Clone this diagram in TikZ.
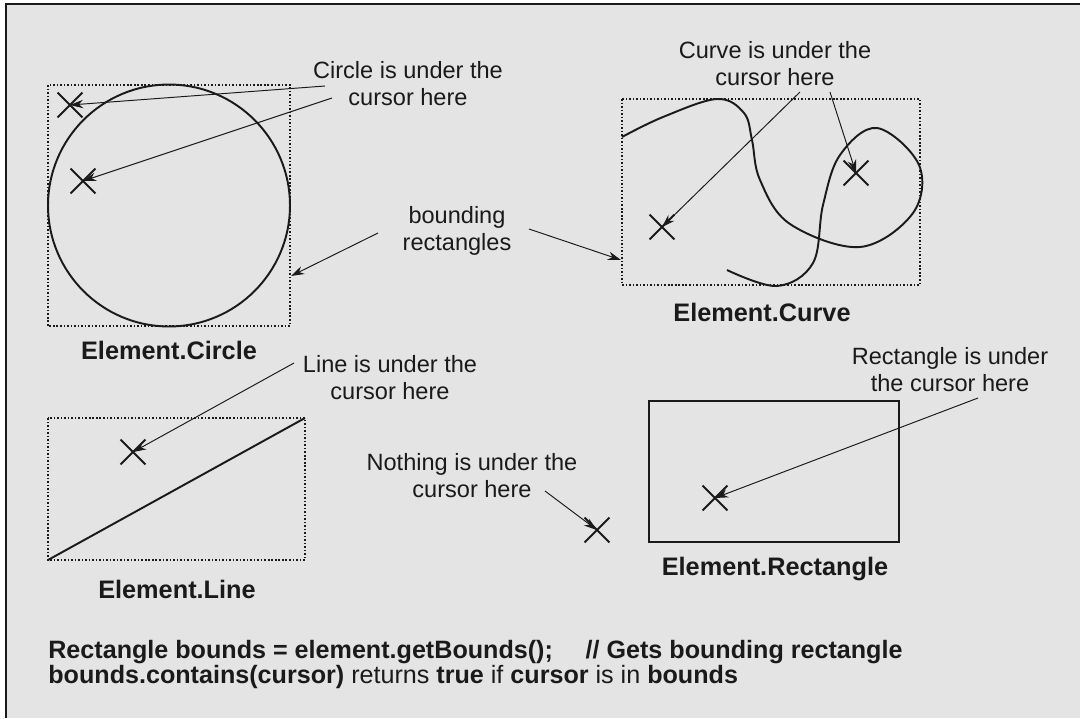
\documentclass[tikz,border=0pt]{standalone}
\usepackage{fontspec}
\setmainfont{Liberation Sans}
\usepackage{tikz}
\usetikzlibrary{arrows.meta,shapes.misc}
\definecolor{panelgray}{HTML}{E4E4E4}
\definecolor{inkblack}{HTML}{1A1A1A}

\begin{document}
\begin{tikzpicture}[
    x=0.02cm, y=-0.02cm,
    every node/.style={text=inkblack, inner sep=0pt},
    callout/.style={align=center, font=\fontsize{13.4}{15.4}\selectfont},
    elemname/.style={font=\fontsize{14.4}{16}\selectfont\bfseries},
    xmark/.style={cross out, draw=inkblack, line width=1.1pt, minimum size=0.46cm},
    bbox/.style={draw=inkblack, line width=0.6pt, dash pattern=on 0.9pt off 1.1pt},
    elem/.style={draw=inkblack, line width=1.1pt},
    pointer/.style={-{Stealth[length=7.5pt,width=4.8pt]}, line width=0.55pt, draw=inkblack}
]
\useasboundingbox (0,0) rectangle (1080,718);
\fill[panelgray] (6,4) rectangle (1080,718);
\draw[line width=1.2pt, inkblack] (6,718) -- (6,4) -- (1080,4);

% circle
\draw[bbox] (48,85) rectangle (290,326);
\draw[elem] (169,205.5) circle[radius=2.42cm];
\node[xmark] (c1) at (70,105) {};
\node[xmark] (c2) at (83,181) {};
\node[elemname] (ncircle) at (169,350) {Element.Circle};
\node[callout] (lcircle) at (408,83.5) {Circle is under the\\cursor here};

% curve
\draw[bbox] (622,99) rectangle (920,285);
\draw[elem] plot[smooth, tension=0.6] coordinates {(622,137) (663,117) (717,99) (744,113) (752,140) (760,180) (790,224) (860,247) (913,213) (919,165) (877,128) (840,155) (823,205) (813,263) (777,286) (727,270)};
\node[xmark] (c3) at (662,227) {};
\node[xmark] (c4) at (856,173) {};
\node[elemname] (ncurve) at (762,312) {Element.Curve};
\node[callout] (lcurve) at (775,63.5) {Curve is under the\\cursor here};

\node[callout] (lbound) at (457,230.5) {bounding\\rectangles};
\coordinate (bcircle) at (291,276);
\coordinate (bcurve) at (621,260);

% line
\draw[bbox] (48,418) rectangle (305,560);
\coordinate (la) at (48,560);
\coordinate (lb) at (305,418);
\draw[elem] (la) -- (lb);
\node[xmark] (c5) at (133,452) {};
\node[elemname] (nline) at (177,589) {Element.Line};
\node[callout] (lline) at (390,377.5) {Line is under the\\cursor here};

% nothing
\node[xmark] (c6) at (597,530) {};
\node[callout] (lnothing) at (472,476) {Nothing is under the\\cursor here};

% rectangle
\draw[elem] (649,401) rectangle (899,542);
\node[xmark] (c7) at (715,498) {};
\node[elemname] (nrect) at (775,569) {Element.Rectangle};
\node[callout] (lrect) at (950,370) {Rectangle is under\\the cursor here};

% arrow starts
\coordinate (s1) at (325,86);
\coordinate (s2) at (332,98);
\coordinate (s3) at (378,233);
\coordinate (s4) at (529,229);
\coordinate (s5) at (800,92);
\coordinate (s6) at (830,92);
\coordinate (s7) at (294,363);
\coordinate (s8) at (545,491);
\coordinate (s9) at (978,398);

\draw[pointer] (s1) -- (c1.center);
\draw[pointer] (s2) -- (c2.center);
\draw[pointer] (s3) -- (bcircle);
\draw[pointer] (s4) -- (bcurve);
\draw[pointer] (s5) -- (c3.center);
\draw[pointer] (s6) -- (c4.center);
\draw[pointer] (s7) -- (c5.center);
\draw[pointer] (s8) -- (c6.center);
\draw[pointer] (s9) -- (c7.center);

% code lines
\node[anchor=west, align=left, font=\fontsize{14.3}{14.4}\selectfont] (code) at (48,664.5)
  {\textbf{Rectangle bounds = element.getBounds();}\hspace{1.3em}\textbf{// Gets bounding rectangle}\\
   \textbf{bounds.contains(cursor)} returns \textbf{true} if \textbf{cursor} is in \textbf{bounds}};
\end{tikzpicture}
\end{document}
